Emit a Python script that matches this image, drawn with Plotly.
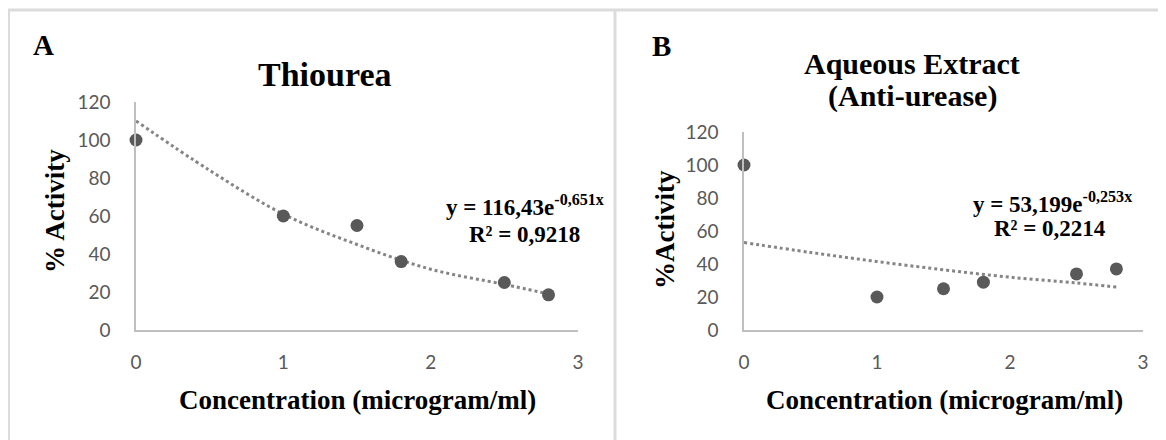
import plotly.graph_objects as go

# ---- data ----
conc = [0, 1, 1.5, 1.8, 2.5, 2.8]
thiourea_activity = [100, 60, 55, 36, 25, 18.5]
aqueous_activity = [100, 20, 25, 29, 34, 37]

trend_x = [0, 0.5, 1, 1.5, 2, 2.5, 2.8]
thiourea_trend = [110, 84, 61, 45, 32, 24, 19]
aqueous_trend = [53, 47, 41.5, 36.5, 32, 28.5, 26]

x_ticks = [0, 1, 2, 3]
y_ticks = [0, 20, 40, 60, 80, 100, 120]

W, H = 1166, 440
OFF = 8  # page body margin
MARKER = "#595959"
TREND = "#858585"
AXIS = "#bfbfbf"
TICKC = "#595959"
SERIF = "Liberation Serif, Times New Roman, serif"
SANS = "Lato, Open Sans, sans-serif"


def px(x):
    return (x - OFF) / W


def py(y):
    return 1 - (y - OFF) / H


fig = go.Figure()

# Panel A
fig.add_trace(go.Scatter(x=trend_x, y=thiourea_trend, mode="lines", line=dict(color=TREND, width=3, dash="dot", shape="spline"),
                         xaxis="x", yaxis="y", showlegend=False, hoverinfo="skip"))
fig.add_trace(go.Scatter(x=conc, y=thiourea_activity, mode="markers", marker=dict(color=MARKER, size=13),
                         xaxis="x", yaxis="y", showlegend=False, cliponaxis=False))
# Panel B
fig.add_trace(go.Scatter(x=trend_x, y=aqueous_trend, mode="lines", line=dict(color=TREND, width=3, dash="dot", shape="spline"),
                         xaxis="x2", yaxis="y2", showlegend=False, hoverinfo="skip"))
fig.add_trace(go.Scatter(x=conc, y=aqueous_activity, mode="markers", marker=dict(color=MARKER, size=13),
                         xaxis="x2", yaxis="y2", showlegend=False, cliponaxis=False))

axis_common = dict(showgrid=False, zeroline=False, showline=True, linecolor=AXIS, linewidth=1.5, automargin=False,
                   ticks="", tickfont=dict(family=SANS, size=19, color=TICKC))
xstyle = dict(ticklabelstandoff=14, **axis_common)
ystyle = dict(ticklabelstandoff=20, **axis_common)

fig.update_layout(
    template="none",
    width=W, height=H,
    margin=dict(l=0, r=0, t=0, b=0, pad=0),
    paper_bgcolor="white", plot_bgcolor="white",
    xaxis=dict(domain=[px(136), px(578)], range=[0, 3], tickvals=x_ticks, anchor="y", **xstyle),
    yaxis=dict(domain=[py(330), py(102)], range=[0, 120], tickvals=y_ticks, anchor="x", **ystyle),
    xaxis2=dict(domain=[px(744), px(1143)], range=[0, 3], tickvals=x_ticks, anchor="y2", **xstyle),
    yaxis2=dict(domain=[py(330), py(132)], range=[0, 120], tickvals=y_ticks, anchor="x2", **ystyle),
)

# borders
border = dict(color="#dcdcdc", width=3)
fig.add_shape(type="line", xref="paper", yref="paper", x0=px(7), x1=1, y0=py(10), y1=py(10), line=border)
fig.add_shape(type="line", xref="paper", yref="paper", x0=px(8.5), x1=px(8.5), y0=py(10), y1=0, line=border)
fig.add_shape(type="line", xref="paper", yref="paper", x0=px(615), x1=px(615), y0=py(10), y1=0, line=border)


def ann(text, x, y, size, angle=0, bold=True):
    fig.add_annotation(text=f"<b>{text}</b>" if bold else text, x=px(x), y=py(y), xref="paper", yref="paper",
                       showarrow=False, xanchor="center", yanchor="middle", textangle=angle,
                       font=dict(family=SERIF, size=size, color="black"))


ann("A", 43, 45, 29)
ann("B", 661, 46, 29)
ann("Thiourea", 325, 74, 34)
ann("Aqueous Extract", 912, 64, 30)
ann("(Anti-urease)", 912, 96, 30)
ann("Concentration (microgram/ml)", 357, 400, 27)
ann("Concentration (microgram/ml)", 944, 400, 27)
ann("% Activity", 55, 211, 27, angle=-90)
ann("%Activity", 665, 230, 27, angle=-90)
ann("y = 116,43e<sup>-0,651x</sup>", 525, 206, 23)
ann("R² = 0,9218", 524, 234, 23)
ann("y = 53,199e<sup>-0,253x</sup>", 1052, 202, 23)
ann("R² = 0,2214", 1050, 228, 23)

fig.write_html("out.html")
